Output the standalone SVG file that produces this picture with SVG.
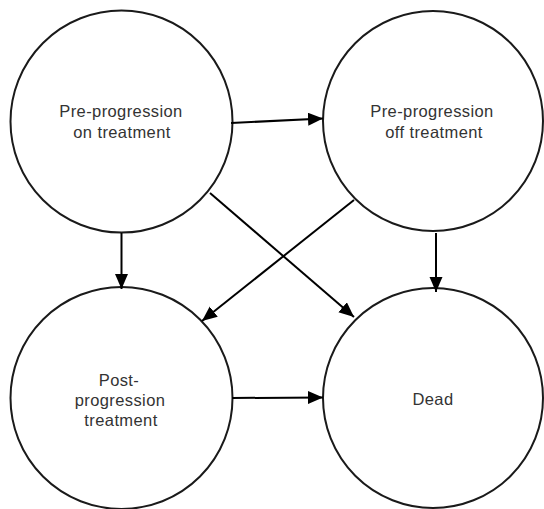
<svg xmlns="http://www.w3.org/2000/svg" width="544" height="509" viewBox="0 0 544 509">
<defs>
<style>
.node{fill:#fff;stroke:#1a1a1a;stroke-width:2}
.lbl{font-family:"Liberation Sans",Arial,sans-serif;font-size:16.5px;fill:#333;text-anchor:middle;letter-spacing:0.4px}
.edge{stroke:#000;stroke-width:2;fill:none;marker-end:url(#ah)}
</style>
<marker id="ah" markerUnits="userSpaceOnUse" markerWidth="16" markerHeight="14" refX="15" refY="6.5" orient="auto">
<path d="M0,0 L15,6.5 L0,13 z" fill="#000"/>
</marker>
</defs>
<rect width="544" height="509" fill="#fff"/>
<g id="n1"><circle class="node" cx="121.5" cy="121.5" r="111"/><text class="lbl" x="121" y="117">Pre-progression</text><text class="lbl" x="122" y="138">on treatment</text></g>
<g id="n2"><circle class="node" cx="433" cy="121" r="110"/><text class="lbl" x="432" y="117">Pre-progression</text><text class="lbl" x="434" y="138">off treatment</text></g>
<g id="n3"><circle class="node" cx="121.5" cy="398" r="111"/><text class="lbl" x="119" y="386">Post-</text><text class="lbl" x="120" y="406">progression</text><text class="lbl" x="121" y="426">treatment</text></g>
<g id="n4"><circle class="node" cx="433" cy="398" r="110"/><text class="lbl" x="433" y="405">Dead</text></g>
<g id="edges">
<line class="edge" x1="231" y1="123" x2="323" y2="118.5"/>
<line class="edge" x1="121.5" y1="233" x2="121.5" y2="289"/>
<line class="edge" x1="210" y1="193" x2="354" y2="317"/>
<line class="edge" x1="354" y1="200" x2="202" y2="321"/>
<line class="edge" x1="436" y1="233" x2="436" y2="292"/>
<line class="edge" x1="232" y1="398" x2="323" y2="397.5"/>
</g>
</svg>
